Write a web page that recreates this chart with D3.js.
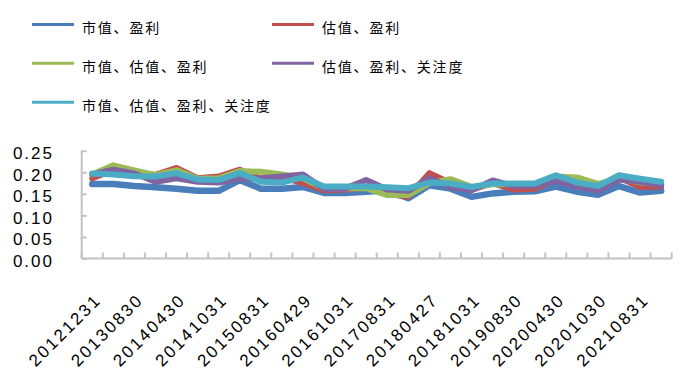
<!DOCTYPE html>
<html><head><meta charset="utf-8">
<script src="https://cdn.jsdelivr.net/npm/d3@7/dist/d3.min.js"></script>
<style>
html,body{margin:0;padding:0;background:#fff;}
svg{display:block;}
</style></head>
<body>
<svg id="c" width="681" height="375"></svg>
<script>
const categories = ["20121231","20130430","20130830","20131231","20140430","20140731","20141031","20150430","20150831","20151231","20160429","20160729","20161031","20170428","20170831","20171229","20180427","20180731","20181031","20190430","20190830","20191231","20200430","20200731","20201030","20210430","20210831","20211231"];
const tickLabels = ["20121231","20130830","20140430","20141031","20150831","20160429","20161031","20170831","20180427","20181031","20190830","20200430","20201030","20210831"];
const yTicks = [0, 0.05, 0.10, 0.15, 0.20, 0.25];
const seriesNames = ["市值、盈利","估值、盈利","市值、估值、盈利","估值、盈利、关注度","市值、估值、盈利、关注度"];
const seriesColors = ["#4a7ebb","#c0504d","#9bbb59","#8064a2","#4bacc6"];
const s1 = [0.173,0.173,0.168,0.165,0.162,0.157,0.157,0.182,0.162,0.162,0.166,0.152,0.152,0.155,0.158,0.140,0.170,0.162,0.143,0.151,0.155,0.156,0.167,0.155,0.148,0.168,0.153,0.157];
const s2 = [0.186,0.205,0.198,0.194,0.210,0.186,0.190,0.206,0.185,0.188,0.175,0.158,0.160,0.165,0.150,0.143,0.198,0.175,0.160,0.175,0.160,0.162,0.183,0.172,0.163,0.188,0.166,0.167];
const s3 = [0.195,0.216,0.204,0.193,0.205,0.185,0.186,0.203,0.201,0.195,0.186,0.162,0.163,0.163,0.147,0.147,0.175,0.184,0.166,0.172,0.172,0.172,0.190,0.188,0.173,0.185,0.177,0.172];
const s4 = [0.195,0.206,0.197,0.178,0.186,0.178,0.176,0.185,0.186,0.190,0.195,0.161,0.162,0.182,0.160,0.157,0.186,0.165,0.158,0.181,0.168,0.168,0.180,0.167,0.157,0.183,0.178,0.170];
const s5 = [0.197,0.195,0.191,0.190,0.198,0.183,0.182,0.198,0.178,0.176,0.188,0.167,0.167,0.167,0.165,0.163,0.176,0.174,0.166,0.174,0.174,0.174,0.193,0.176,0.168,0.193,0.185,0.178];
const seriesValues = [s1,s2,s3,s4,s5];

const svg = d3.select("#c");
const x = d3.scaleBand().domain(categories).range([81.7, 671.7]).padding(0);
const y = d3.scaleLinear().domain([0, 0.25]).range([258.5, 150.7]);
const axisColor = "#c3c3c3";
const numFont = "'Liberation Sans', Arial, sans-serif";

// y axis
const yAxis = svg.append("g").attr("transform","translate(81.7,0)")
  .call(d3.axisLeft(y).tickValues(yTicks).tickSize(-5).tickFormat(""));
yAxis.select(".domain").attr("stroke", axisColor).attr("stroke-width", 2).attr("d", `M0,${y(0)}V${y(0.25)}`);
yAxis.selectAll(".tick line").attr("stroke", axisColor).attr("stroke-width", 2);
svg.append("g").selectAll("text").data(yTicks).join("text")
  .attr("x", 54).attr("y", d => y(d) + 8.5)
  .attr("text-anchor","end")
  .style("font-family", numFont).style("font-size","17px").style("letter-spacing","2px")
  .attr("fill","#000")
  .text(d => d.toFixed(2));

// x axis
const xg = svg.append("g");
xg.append("line").attr("x1", x.range()[0]).attr("x2", x.range()[1]).attr("y1", y(0)).attr("y2", y(0))
  .attr("stroke", axisColor).attr("stroke-width", 2);
const bounds = categories.map(c => x(c)).concat([x(categories[categories.length-1]) + x.bandwidth()]);
xg.selectAll("line.t").data(bounds).join("line").attr("class","t")
  .attr("x1", d => d).attr("x2", d => d).attr("y1", y(0)).attr("y2", y(0) - 6)
  .attr("stroke", axisColor).attr("stroke-width", 2);
xg.selectAll("text").data(tickLabels).join("text")
  .attr("text-anchor","end")
  .attr("transform", d => `translate(${x(d) + x.bandwidth()/2 + 10},${301}) rotate(-45)`)
  .style("font-family", numFont).style("font-size","17px").style("letter-spacing","2.3px")
  .attr("fill","#000")
  .text(d => d);

// lines
const line = d3.line().x((d,i) => x(categories[i]) + x.bandwidth()/2).y(d => y(d));
svg.append("g").selectAll("path").data(seriesValues).join("path")
  .attr("d", d => line(d))
  .attr("fill","none")
  .attr("stroke", (d,i) => seriesColors[i])
  .attr("stroke-width", (d,i) => i === 0 ? 6.5 : 6)
  .attr("stroke-linejoin","round")
  .attr("stroke-linecap","round");

// legend
const legendPos = [[32,24.5],[272,24.5],[32,63.3],[272,63.3],[32,102.3]];
const lg = svg.append("g").selectAll("g").data(seriesNames).join("g")
  .attr("transform", (d,i) => `translate(${legendPos[i][0]},${legendPos[i][1]})`);
lg.append("line").attr("x1",0).attr("x2",42).attr("y1",0).attr("y2",0)
  .attr("stroke",(d,i)=>seriesColors[i]).attr("stroke-width",3);
lg.append("text").attr("x",50).attr("y",2.5)
  .attr("dominant-baseline","central")
  .style("font-family","'Noto Sans CJK SC', sans-serif").style("font-size","14px").style("letter-spacing","1.8px")
  .attr("fill","#000")
  .text(d => d);
</script>
</body></html>
